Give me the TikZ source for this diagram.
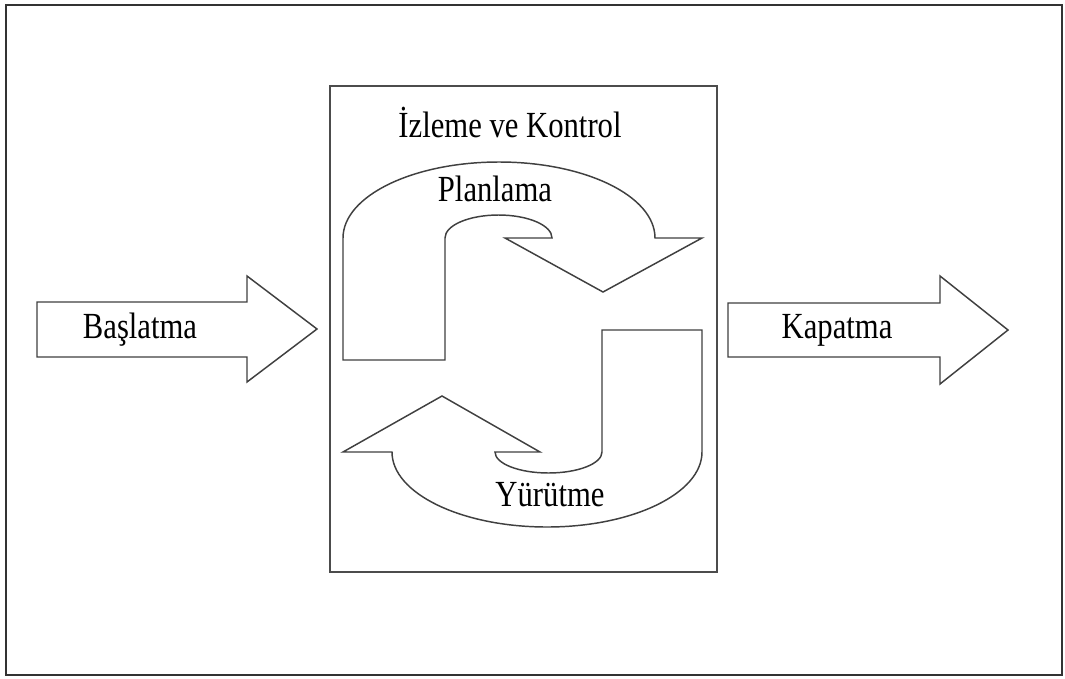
\documentclass[tikz,border=0pt]{standalone}
\usepackage{fontspec}
\setmainfont{Liberation Serif}
\usetikzlibrary{positioning}
\newcommand{\tallt}[1]{\scalebox{1}[1.2]{#1}}

\begin{document}
\begin{tikzpicture}[
    x=0.75pt, y=-0.75pt,
    shapeline/.style={draw=black!75, line width=1.1pt, line join=miter, fill=white},
    frame/.style={draw=black!80, line width=1.5pt},
    lbl/.style={font=\fontsize{23}{26}\selectfont, inner sep=0pt}
  ]

  % ============ CANVAS ============
  \useasboundingbox (0,0) rectangle (1065,679);
  \fill[white] (0,0) rectangle (1065,679);
  \draw[frame] (6,5) rectangle (1062,675);

  % ============ MONITORING BOX ============
  \draw[frame, draw=black!70, line width=1.3pt] (330,86) rectangle (717,572);
  \node[lbl] (izleme) at (510,122) {\tallt{İzleme ve Kontrol}};

  % ============ INPUT / OUTPUT ARROWS ============
  % Initiation
  \draw[shapeline] (37,302) -- (247,302) -- (247,276) -- (317,329)
    -- (247,382) -- (247,357) -- (37,357) -- cycle;
  \node[lbl] (baslatma) at (140,330) {\tallt{Başlatma}};

  % Closing
  \draw[shapeline] (728,303) -- (940,303) -- (940,276) -- (1008,330)
    -- (940,384) -- (940,357) -- (728,357) -- cycle;
  \node[lbl] (kapatma) at (837,330) {\tallt{Kapatma}};

  % ============ CYCLE ARROWS ============
  % Planning (upper, turning right)
  \draw[shapeline] (343,360) -- (343,238)
    arc[start angle=180, end angle=360, x radius=156, y radius=76]
    -- (702,238) -- (603,292) -- (505,238) -- (552,238)
    arc[start angle=0, end angle=-180, x radius=53.5, y radius=23]
    -- (445,360) -- cycle;
  \node[lbl] (planlama) at (495,189) {\tallt{Planlama}};

  % Execution (lower, turning left)
  \draw[shapeline] (602,330) -- (702,330) -- (702,452)
    arc[start angle=0, end angle=180, x radius=155, y radius=75]
    -- (343,452) -- (442,396) -- (540,452) -- (495,452)
    arc[start angle=180, end angle=0, x radius=53.5, y radius=21]
    -- cycle;
  \node[lbl] (yurutme) at (550,495) {\tallt{Yürütme}};

\end{tikzpicture}
\end{document}
